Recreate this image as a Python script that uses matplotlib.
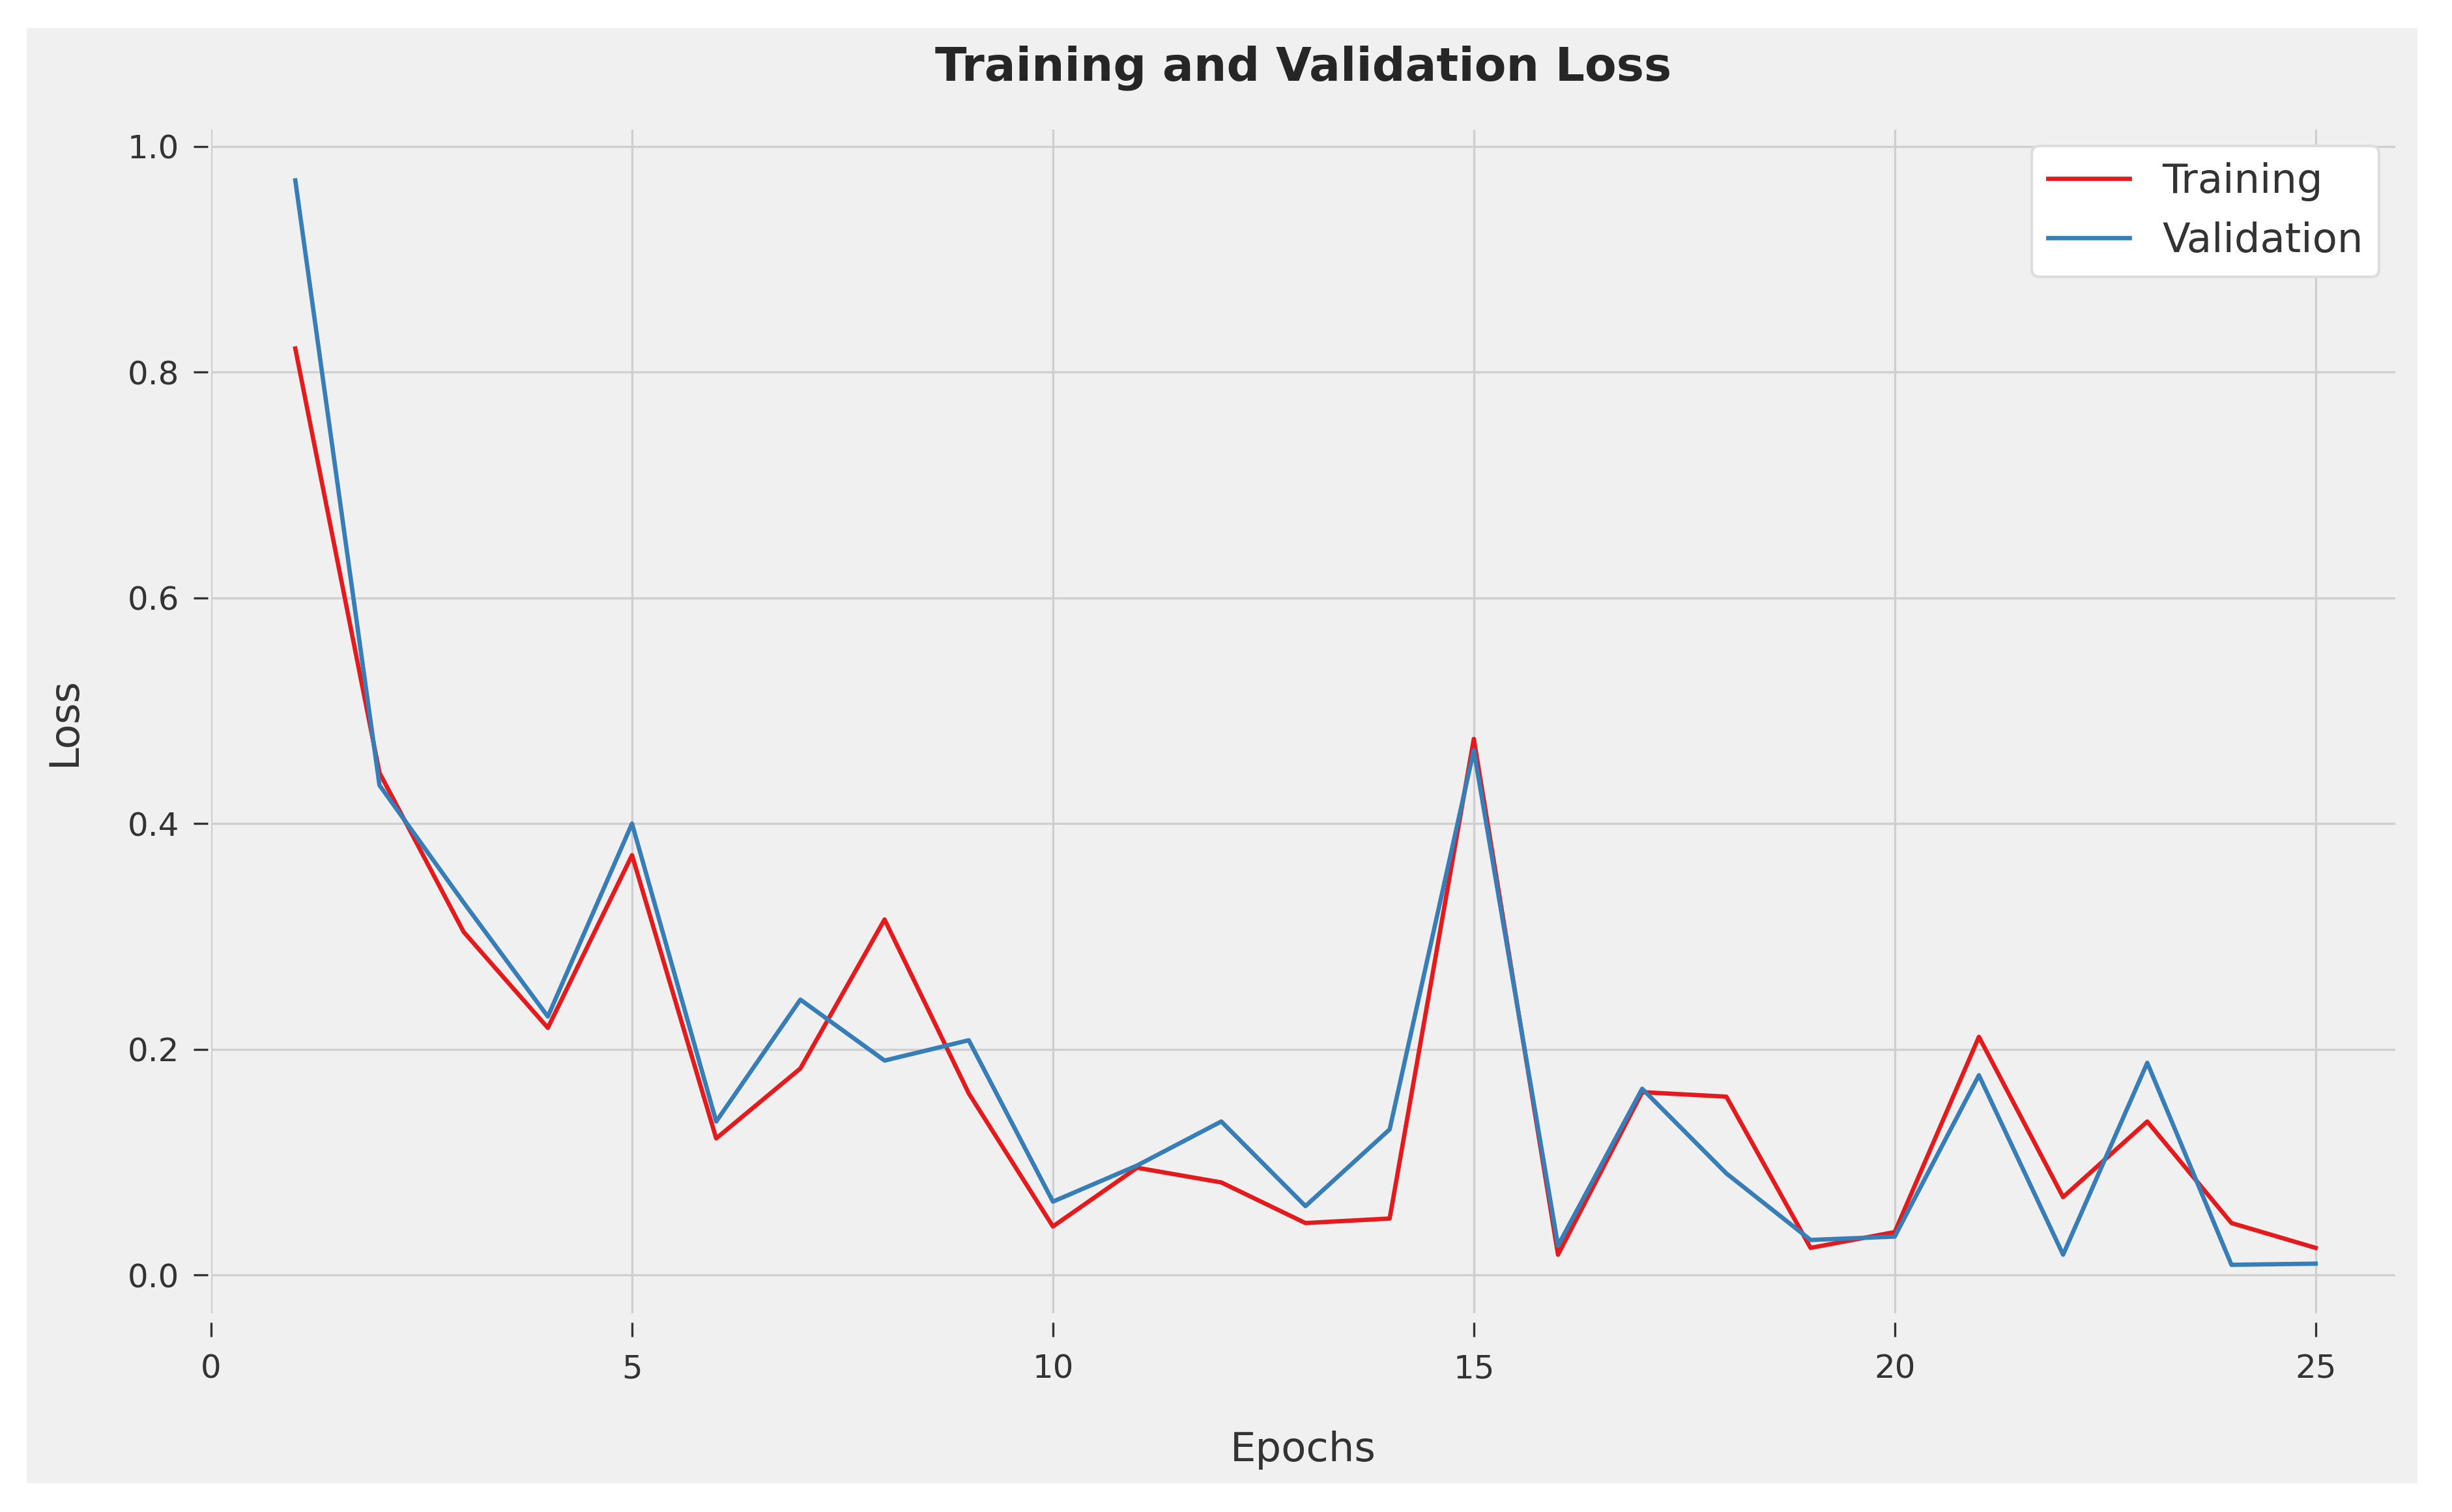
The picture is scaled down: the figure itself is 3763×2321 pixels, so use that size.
# Training / validation loss curve
import matplotlib
matplotlib.use("Agg")
import matplotlib.pyplot as plt
from matplotlib.patches import Rectangle

# -------------------------------------------------------
# DATA
# -------------------------------------------------------
epochs = list(range(1, 26))
train_loss = [0.821, 0.445, 0.304, 0.219, 0.372, 0.121, 0.183, 0.315, 0.161, 0.043,
              0.095, 0.082, 0.046, 0.050, 0.475, 0.018, 0.162, 0.158, 0.024, 0.038,
              0.211, 0.069, 0.136, 0.046, 0.024]
val_loss = [0.970, 0.434, 0.330, 0.229, 0.400, 0.136, 0.244, 0.190, 0.208, 0.065,
            0.097, 0.136, 0.061, 0.129, 0.465, 0.026, 0.165, 0.090, 0.031, 0.034,
            0.177, 0.018, 0.188, 0.009, 0.010]
x_ticks = [0, 5, 10, 15, 20, 25]
y_ticks = [0.0, 0.2, 0.4, 0.6, 0.8, 1.0]

BG = "#f0f0f0"
TXT = "#333333"

plt.rcParams["font.family"] = ["DejaVu Sans"]

fig = plt.figure(figsize=(3763 / 300, 2321 / 300), dpi=300, facecolor="white")
# grey panel sitting inside a thin white border (drawn behind the axes)
fig.patches.append(Rectangle((0.0108, 0.0190), 0.9752, 0.9624, transform=fig.transFigure,
                             facecolor=BG, edgecolor="none", zorder=-10))

ax = fig.add_axes([0.0861, 0.1314, 0.8909, 0.7829])
ax.set_facecolor(BG)

ax.plot(epochs, train_loss, color="#e41a1c", linewidth=1.6, label="Training")
ax.plot(epochs, val_loss, color="#377eb8", linewidth=1.6, label="Validation")

ax.set_xlim(0, 25.95)
ax.set_ylim(-0.034, 1.015)
ax.set_xticks(x_ticks)
ax.set_yticks(y_ticks)
ax.set_yticklabels([f"{v:.1f}" for v in y_ticks])

ax.grid(True, color="#cfcfcf", linewidth=0.8)
ax.set_axisbelow(True)

# hidden spines pushed out a little, so the tick marks float off the plot area
for side in ["top", "right"]:
    ax.spines[side].set_visible(False)
ax.spines["left"].set_position(("outward", 1.2))
ax.spines["bottom"].set_position(("outward", 3.4))
ax.spines["left"].set_visible(False)
ax.spines["bottom"].set_visible(False)

ax.tick_params(axis="both", colors=TXT, labelsize=12, length=5.3, width=0.8)
ax.tick_params(axis="y", pad=5.3)
ax.tick_params(axis="x", pad=6)

ax.set_title("Training and Validation Loss", fontsize=17.05, fontweight="bold",
             color="#262626", pad=18)
ax.set_xlabel("Epochs", fontsize=15, color=TXT, labelpad=17)
ax.set_ylabel("Loss", fontsize=15, color=TXT, labelpad=16)

leg = ax.legend(loc="upper right", fontsize=15, frameon=True, fancybox=True,
                borderaxespad=0.4)
leg.get_frame().set_facecolor("white")
leg.get_frame().set_edgecolor("#dddddd")
leg.get_frame().set_alpha(1.0)
for t in leg.get_texts():
    t.set_color(TXT)

fig.savefig("out.png", dpi=300, facecolor="white")
print("saved out.png")
